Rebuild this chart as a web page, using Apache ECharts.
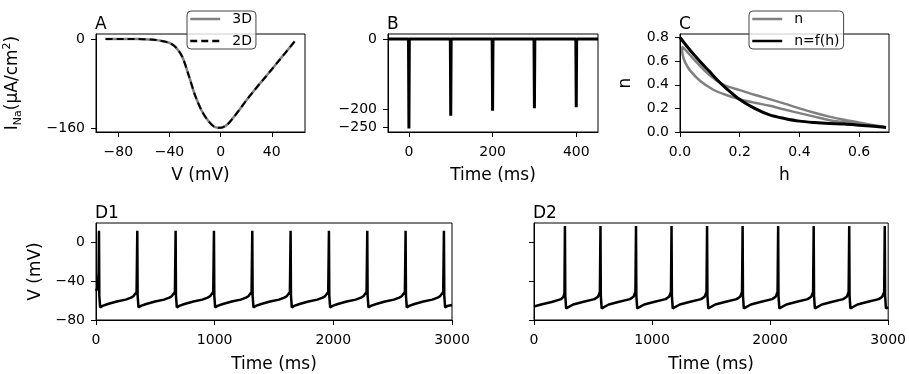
<!DOCTYPE html>
<html>
<head>
<meta charset="utf-8">
<script src="https://cdn.jsdelivr.net/npm/echarts@6/dist/echarts.min.js"></script>
<style>html,body{margin:0;padding:0;background:#fff}#main{width:909px;height:374px}</style>
</head>
<body>
<div id="main"></div>
<script>
// panel A: I_Na vs V
const aVolt = [-90,-85,-80,-75,-70,-65,-60,-55,-50,-45,-40,-35,-30,-25,-20,-15,-10,-5,0,5,10,15,20,25,30,35,40,45,50,55,58];
const aCurrent = [0,0,0,0,0,-0.1,-0.3,-0.8,-2,-4,-7,-15,-32,-65,-101,-128,-146,-157.5,-159.5,-154,-141,-126,-110.5,-96,-82,-68.5,-54.5,-40.5,-26.5,-12.5,-4];

// panel B: I_Na vs time
const bTime = [-50,-1,0,1,99,100,101,199,200,201,299,300,301,399,400,401,452];
const bCurrent = [0,0,-253,0,0,-217,0,0,-203,0,0,-196,0,0,-193,0,0];

// panel C: trajectory loop (n) and n=f(h)
const cLoopH = [0.69,0.6,0.55,0.5,0.45,0.4,0.35,0.3,0.25,0.2,0.15,0.11,0.067,0.034,0.018,0.01,0.007,0.008,0.02,0.045,0.089,0.12,0.15,0.2,0.25,0.3,0.35,0.4,0.45,0.5,0.55,0.6,0.65,0.69];
const cLoopN = [0.04,0.065,0.082,0.1,0.13,0.16,0.19,0.222,0.248,0.278,0.318,0.36,0.434,0.52,0.585,0.64,0.69,0.72,0.69,0.62,0.505,0.44,0.395,0.355,0.315,0.278,0.24,0.2,0.163,0.13,0.103,0.08,0.058,0.04];
const cFitH = [0,0.025,0.05,0.075,0.1,0.125,0.15,0.2,0.25,0.3,0.35,0.4,0.45,0.5,0.55,0.6,0.65,0.69];
const cFitN = [0.8,0.72,0.645,0.575,0.51,0.44,0.38,0.275,0.2,0.145,0.115,0.092,0.08,0.072,0.067,0.058,0.048,0.038];

// panel D1: V trace, 3D model
const d1Time = [0,15,22,25,28,35,55,100,175,250,295,315,328,342,
  348,351,358,378,423,498,573,618,638,651,665,
  671,674,681,701,746,821,896,941,961,974,988,
  994,997,1004,1024,1069,1144,1219,1264,1284,1297,1311,
  1317,1320,1327,1347,1392,1467,1542,1587,1607,1620,1634,
  1640,1643,1650,1670,1715,1790,1865,1910,1930,1943,1957,
  1963,1966,1973,1993,2038,2113,2188,2233,2253,2266,2280,
  2286,2289,2296,2316,2361,2436,2511,2556,2576,2589,2603,
  2609,2612,2619,2639,2684,2759,2834,2879,2899,2912,2926,
  2932,2935,2942,2962,3000];
const d1Volt = [-50,-46,-30,12,-55,-67,-65.5,-63.5,-61,-59,-57,-55.5,-54,-51,
  12,-55,-67,-65.5,-63.5,-61,-59,-57,-55.5,-54,-51,
  12,-55,-67,-65.5,-63.5,-61,-59,-57,-55.5,-54,-51,
  12,-55,-67,-65.5,-63.5,-61,-59,-57,-55.5,-54,-51,
  12,-55,-67,-65.5,-63.5,-61,-59,-57,-55.5,-54,-51,
  12,-55,-67,-65.5,-63.5,-61,-59,-57,-55.5,-54,-51,
  12,-55,-67,-65.5,-63.5,-61,-59,-57,-55.5,-54,-51,
  12,-55,-67,-65.5,-63.5,-61,-59,-57,-55.5,-54,-51,
  12,-55,-67,-65.5,-63.5,-61,-59,-57,-55.5,-54,-51,
  12,-55,-67,-65.5,-64.5];

// panel D2: V trace, 2D model
const d2Time = [0,60,150,230,250,258,
  262,265,272,287,332,412,512,542,553,558,
  563,566,573,588,633,713,813,843,854,859,
  864,867,874,889,934,1014,1114,1144,1155,1160,
  1165,1168,1175,1190,1235,1315,1415,1445,1456,1461,
  1466,1469,1476,1491,1536,1616,1716,1746,1757,1762,
  1767,1770,1777,1792,1837,1917,2017,2047,2058,2063,
  2068,2071,2078,2093,2138,2218,2318,2348,2359,2364,
  2369,2372,2379,2394,2439,2519,2619,2649,2660,2665,
  2670,2673,2680,2695,2740,2820,2920,2950,2961,2966,
  2971,2974,2981,3000];
const d2Volt = [-66,-64,-61.5,-58.5,-56,-52,
  17,-55,-68,-66,-64,-61.5,-58.5,-56,-54,-51,
  17,-55,-68,-66,-64,-61.5,-58.5,-56,-54,-51,
  17,-55,-68,-66,-64,-61.5,-58.5,-56,-54,-51,
  17,-55,-68,-66,-64,-61.5,-58.5,-56,-54,-51,
  17,-55,-68,-66,-64,-61.5,-58.5,-56,-54,-51,
  17,-55,-68,-66,-64,-61.5,-58.5,-56,-54,-51,
  17,-55,-68,-66,-64,-61.5,-58.5,-56,-54,-51,
  17,-55,-68,-66,-64,-61.5,-58.5,-56,-54,-51,
  17,-55,-68,-66,-64,-61.5,-58.5,-56,-54,-51,
  17,-55,-68,-67];

const zip = (xs, ys) => xs.map((x, i) => [x, ys[i]]);
const FONT = 'DejaVu Sans';
const minus = v => (v < 0 ? '\u2212' + Math.abs(v) : String(v));

function axis(gridIndex, min, max, ticks, opts) {
  opts = opts || {};
  return {
    type: 'value', gridIndex, min, max,
    splitLine: { show: false },
    axisLine: { show: true, onZero: false, lineStyle: { color: '#000', width: 1 } },
    axisTick: { show: true, inside: false, length: 5, customValues: ticks, lineStyle: { color: '#000' } },
    axisLabel: {
      show: opts.labels !== false, customValues: ticks, margin: opts.margin || 11,
      color: '#000', fontSize: 14, fontFamily: FONT,
      formatter: opts.fmt || minus
    },
    name: opts.name || '', nameLocation: 'middle', nameGap: opts.gap || 30,
    nameRotate: opts.rotate,
    nameTextStyle: Object.assign({ color: '#000', fontSize: 17, fontFamily: FONT }, opts.nameStyle || {})
  };
}

const titleStyle = { color: '#000', fontSize: 17, fontFamily: FONT, fontWeight: 'normal' };
const gridBox = { show: true, borderColor: '#000', borderWidth: 1, containLabel: false };
const legendBase = {
  orient: 'vertical', itemWidth: 30, itemHeight: 14, itemGap: 8,
  padding: [1, 4, 1, 2], borderColor: '#444', borderWidth: 1, borderRadius: 4,
  backgroundColor: 'rgba(255,255,255,0.8)',
  itemStyle: { opacity: 0 },
  lineStyle: { width: 2.5 },
  textStyle: { color: '#000', fontSize: 14, fontFamily: FONT, padding: [0, 0, 0, 7] }
};

const chart = echarts.init(document.getElementById('main'), null, { renderer: 'canvas' });

chart.setOption({
  animation: false,
  backgroundColor: '#fff',
  title: [
    { text: 'A', left: 95, top: 16, padding: 0, textStyle: titleStyle },
    { text: 'B', left: 387, top: 16, padding: 0, textStyle: titleStyle },
    { text: 'C', left: 679, top: 16, padding: 0, textStyle: titleStyle },
    { text: 'D1', left: 95, top: 205, padding: 0, textStyle: titleStyle },
    { text: 'D2', left: 533, top: 205, padding: 0, textStyle: titleStyle }
  ],
  legend: [
    Object.assign({}, legendBase, { left: 187, top: 11, data: ['3D', '2D'] }),
    Object.assign({}, legendBase, { left: 749, top: 11, data: ['n', 'n=f(h)'] })
  ],
  grid: [
    Object.assign({ left: 96, top: 34, width: 209, height: 98 }, gridBox),
    Object.assign({ left: 388, top: 34, width: 210, height: 98 }, gridBox),
    Object.assign({ left: 680, top: 34, width: 209, height: 98 }, gridBox),
    Object.assign({ left: 96, top: 223, width: 356, height: 97 }, gridBox),
    Object.assign({ left: 534, top: 223, width: 355, height: 97 }, gridBox)
  ],
  xAxis: [
    axis(0, -97.5, 66, [-80, -40, 0, 40], { name: 'V (mV)', gap: 35, margin: 13 }),
    axis(1, -50, 452, [0, 200, 400], { name: 'Time (ms)', gap: 35, margin: 13 }),
    axis(2, 0, 0.7, [0, 0.2, 0.4, 0.6], { name: 'h', gap: 35, margin: 13, fmt: v => v.toFixed(1) }),
    axis(3, 0, 3000, [0, 1000, 2000, 3000], { name: 'Time (ms)', gap: 36, margin: 13 }),
    axis(4, 0, 3000, [0, 1000, 2000, 3000], { name: 'Time (ms)', gap: 36, margin: 13 })
  ],
  yAxis: [
    axis(0, -167, 9, [-160, 0], {
      name: '{a|I}{b|Na}{a|(\u03bcA/cm}{c|2}{a|)}', gap: 72, rotate: 90,
      nameStyle: { rich: {
        a: { fontSize: 17, lineHeight: 22, fontFamily: FONT, color: '#000' },
        b: { fontSize: 11, lineHeight: 11, verticalAlign: 'bottom', fontFamily: FONT, color: '#000' },
        c: { fontSize: 11, lineHeight: 11, verticalAlign: 'top', fontFamily: FONT, color: '#000' }
      } }
    }),
    axis(1, -263, 14, [-250, -200, 0], {}),
    axis(2, 0, 0.83, [0, 0.2, 0.4, 0.6, 0.8], { name: 'n', gap: 46, rotate: 90, fmt: v => v.toFixed(1) }),
    axis(3, -80, 20, [-80, -40, 0], { name: 'V (mV)', gap: 52, rotate: 90 }),
    axis(4, -80, 20, [-80, -40, 0], { labels: false })
  ],
  series: [
    { name: '3D', type: 'line', xAxisIndex: 0, yAxisIndex: 0, data: zip(aVolt, aCurrent),
      symbol: 'none', smooth: 0.3, lineStyle: { color: '#808080', width: 2.5 }, itemStyle: { color: '#808080' } },
    { name: '2D', type: 'line', xAxisIndex: 0, yAxisIndex: 0, data: zip(aVolt, aCurrent),
      symbol: 'none', smooth: 0.3, lineStyle: { color: '#000', width: 2, type: [7, 4] }, itemStyle: { color: '#000' } },
    { name: 'B', type: 'line', xAxisIndex: 1, yAxisIndex: 1, data: zip(bTime, bCurrent),
      symbol: 'none', lineStyle: { color: '#000', width: 3 } },
    { name: 'n', type: 'line', xAxisIndex: 2, yAxisIndex: 2, data: zip(cLoopH, cLoopN),
      symbol: 'none', smooth: 0.3, lineStyle: { color: '#808080', width: 2.5 }, itemStyle: { color: '#808080' } },
    { name: 'n=f(h)', type: 'line', xAxisIndex: 2, yAxisIndex: 2, data: zip(cFitH, cFitN),
      symbol: 'none', smooth: 0.3, lineStyle: { color: '#000', width: 3 }, itemStyle: { color: '#000' } },
    { name: 'D1', type: 'line', xAxisIndex: 3, yAxisIndex: 3, data: zip(d1Time, d1Volt),
      symbol: 'none', lineStyle: { color: '#000', width: 2.5 } },
    { name: 'D2', type: 'line', xAxisIndex: 4, yAxisIndex: 4, data: zip(d2Time, d2Volt),
      symbol: 'none', lineStyle: { color: '#000', width: 2.5 } }
  ]
});
</script>
</body>
</html>
